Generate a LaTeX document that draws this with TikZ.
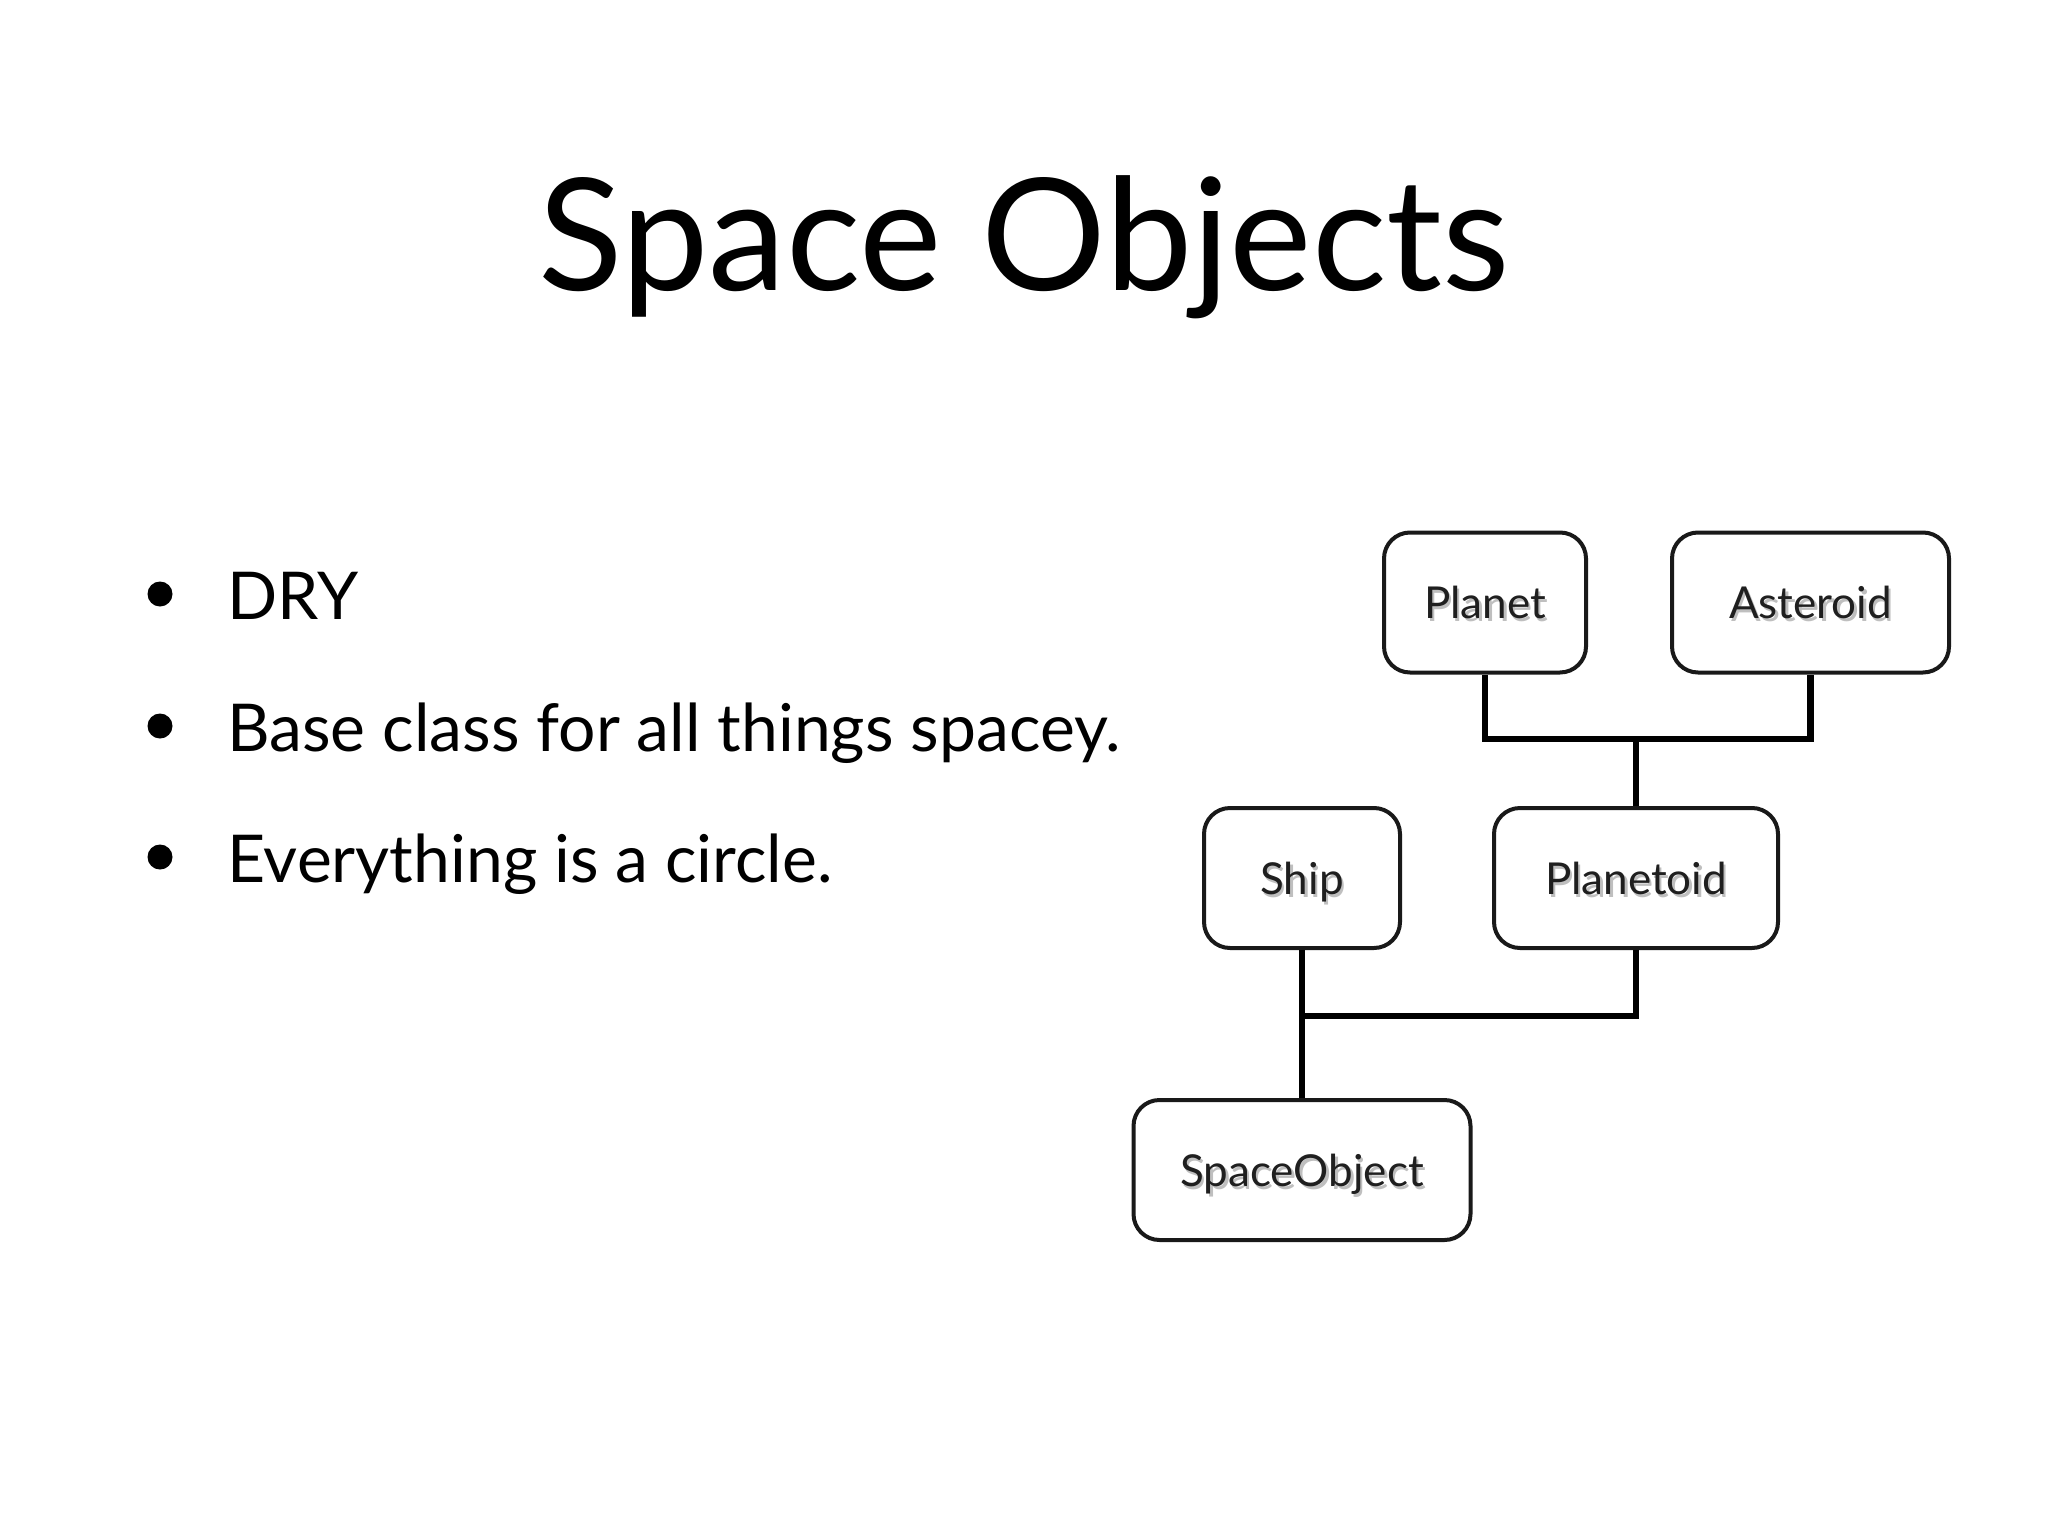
\documentclass[tikz,border=0pt]{standalone}
\usepackage{fontspec}
\setmainfont{Lato}
\usetikzlibrary{positioning}
\newcommand{\shtext}[1]{\makebox[0pt][l]{\hspace{2.5pt}\raisebox{-3pt}{\textcolor{black!25}{#1}}}\textcolor{black!88}{#1}}
\tikzset{
  classbox/.style={draw=black!90, line width=4pt, rounded corners=26pt, fill=white,
    minimum height=140pt, text height=32pt, text depth=0pt, inner sep=0pt,
    font=\fontsize{44}{52}\selectfont},
  link/.style={draw=black, line width=6.5pt},
  bulletdot/.style={circle, fill=black, minimum size=25pt, inner sep=0pt},
  bullettext/.style={anchor=base west, inner sep=0pt, font=\fontsize{66}{80}\selectfont},
}
\begin{document}
\begin{tikzpicture}[x=1pt,y=-1pt]
\useasboundingbox[fill=white] (0,0) rectangle (2048,1536);
\node[anchor=base, inner sep=0pt, font=\fontsize{156}{190}\selectfont] (title) at (1024,290) {Space Objects};

\node[bulletdot] (b1) at (160,594) {};
\node[bulletdot] (b2) at (160,726) {};
\node[bulletdot] (b3) at (160,857) {};
\node[bullettext] (t1) at (227,619) {DRY};
\node[bullettext] (t2) at (227,751) {Base class for all things spacey.};
\node[bullettext] (t3) at (227,882) {Everything is a circle.};

\node[classbox, minimum width=202pt] (Planet) at (1485,602.5) {\shtext{Planet}};
\node[classbox, minimum width=277pt] (Asteroid) at (1810.5,602.5) {\shtext{Asteroid}};
\node[classbox, minimum width=196pt] (Ship) at (1302,878) {\shtext{Ship}};
\node[classbox, minimum width=284pt] (Planetoid) at (1636,878) {\shtext{Planetoid}};
\node[classbox, minimum width=337pt] (SpaceObject) at (1302,1170) {\shtext{SpaceObject}};

\coordinate (j1) at (1636,739);
\coordinate (j2) at (1302,1016);
\draw[link] (Planet.south) |- (j1) -| (Asteroid.south);
\draw[link] (j1) -- (Planetoid.north);
\draw[link] (Ship.south) -- (SpaceObject.north);
\draw[link] (Planetoid.south) |- (j2);
\end{tikzpicture}
\end{document}
